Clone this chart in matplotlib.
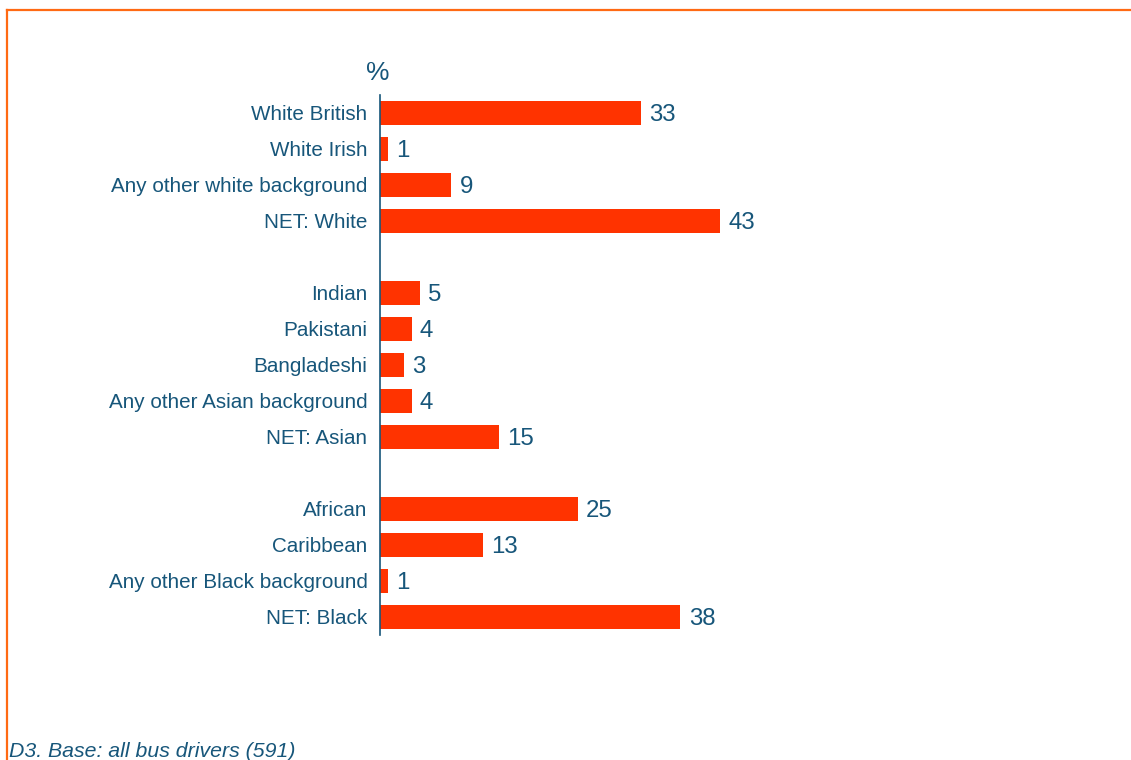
import matplotlib
matplotlib.use("Agg")
import matplotlib.pyplot as plt
from matplotlib.lines import Line2D

plt.rcParams['font.family'] = ['Liberation Sans', 'DejaVu Sans']

# Ethnic background of bus drivers (%), grouped with blank spacer rows
categories = [
    "White British", "White Irish", "Any other white background", "NET: White",
    None,
    "Indian", "Pakistani", "Bangladeshi", "Any other Asian background", "NET: Asian",
    None,
    "African", "Caribbean", "Any other Black background", "NET: Black",
]
values = [33, 1, 9, 43, None, 5, 4, 3, 4, 15, None, 25, 13, 1, 38]
footnote = "D3. Base: all bus drivers (591)"

BAR_COLOR = "#FF3300"
TEXT_COLOR = "#17567A"
FRAME_COLOR = "#FF6A13"

W, H = 1131, 760
fig = plt.figure(figsize=(W / 100, H / 100), dpi=100)
fig.patch.set_facecolor("white")

# axes box in pixels: x from 380 to 1100, y from 95 to 635 (from top)
ax = fig.add_axes([380 / W, 1 - 635 / H, 720 / W, 540 / H])

pos = [i for i, v in enumerate(values) if v is not None]
vals = [v for v in values if v is not None]
labs = [c for c in categories if c is not None]

ax.barh(pos, vals, height=0.67, color=BAR_COLOR, zorder=2)
for p, v in zip(pos, vals):
    ax.annotate(f"{v}", xy=(v, p), xytext=(6, -1.2), textcoords="offset points",
                ha="left", va="center", fontsize=17.3, color=TEXT_COLOR)

ax.set_ylim(len(values) - 0.5, -0.5)
ax.set_xlim(0, 91.06)
ax.set_yticks(pos)
ax.set_yticklabels(labs, fontsize=14.9, color=TEXT_COLOR)
ax.tick_params(axis="y", length=0, pad=9)
for t in ax.get_yticklabels():
    t.set_y(t.get_position()[1])
ax.set_xticks([])
for side in ("top", "right", "bottom"):
    ax.spines[side].set_visible(False)
ax.spines["left"].set_color(TEXT_COLOR)
ax.spines["left"].set_linewidth(1.2)
ax.set_facecolor("none")

# percent sign above the axis
fig.text(378 / W, 1 - 73 / H, "%", ha="center", va="center",
         fontsize=19, color=TEXT_COLOR)

# footnote
fig.text(9 / W, 3 / H, footnote, ha="left", va="baseline",
         fontsize=15.3, style="italic", color=TEXT_COLOR)

# orange frame: top and left edges
fig.add_artist(Line2D([7 / W, 1.0], [1 - 9.5 / H, 1 - 9.5 / H],
                      transform=fig.transFigure, color=FRAME_COLOR, lw=1.6))
fig.add_artist(Line2D([7 / W, 7 / W], [1 - 9.5 / H, 0.0],
                      transform=fig.transFigure, color=FRAME_COLOR, lw=1.6))

fig.savefig("out.png", dpi=100, facecolor="white")
